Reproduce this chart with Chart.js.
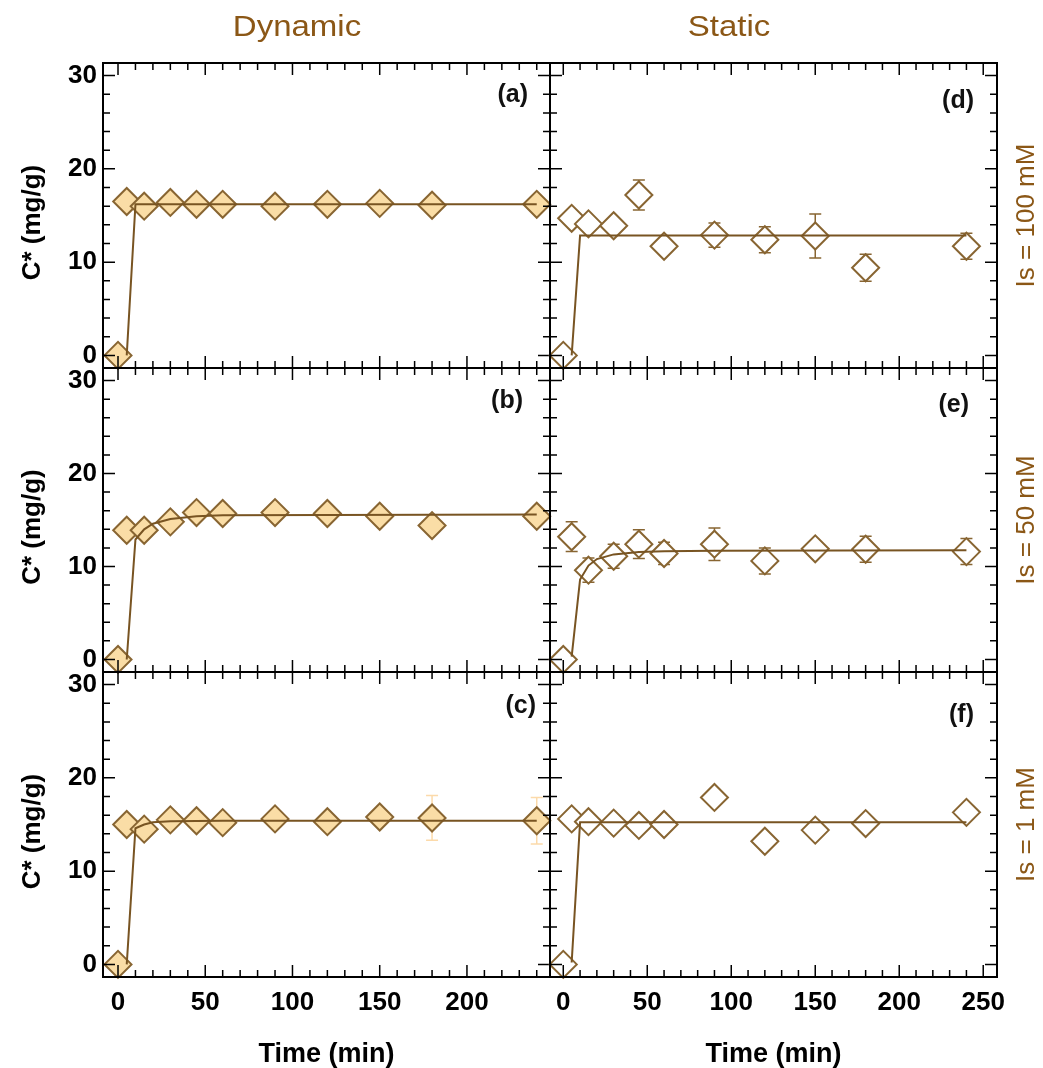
<!DOCTYPE html>
<html>
<head>
<meta charset="utf-8">
<script src="https://cdn.jsdelivr.net/npm/chart.js@4.4.0/dist/chart.umd.min.js"></script>
<style>
html,body{margin:0;padding:0;background:#ffffff;}
#wrap{position:relative;width:1043px;height:1068px;overflow:hidden;}
#wrap canvas{position:absolute;left:0;top:0;}
</style>
</head>
<body>
<div id="wrap">
<canvas id="pa" width="1043" height="1068"></canvas>
<canvas id="pb" width="1043" height="1068"></canvas>
<canvas id="pc" width="1043" height="1068"></canvas>
<canvas id="pd" width="1043" height="1068"></canvas>
<canvas id="pe" width="1043" height="1068"></canvas>
<canvas id="pf" width="1043" height="1068"></canvas>
</div>
<script>
// ---------------- DATA ----------------
const timeMin = [0, 5, 15, 30, 45, 60, 90, 120, 150, 180, 240];

// Dynamic (filled diamonds)
const dynA = [0, 16.5, 16.0, 16.4, 16.2, 16.2, 16.0, 16.2, 16.3, 16.1, 16.2];   // Is = 100 mM
const dynB = [0, 13.9, 13.9, 14.8, 15.8, 15.7, 15.8, 15.7, 15.4, 14.4, 15.4];   // Is = 50 mM
const dynC = [0, 15.0, 14.5, 15.5, 15.4, 15.2, 15.6, 15.3, 15.8, 15.7, 15.4];   // Is = 1 mM
const dynCErr = [0, 0.4, 0.4, 0.4, 0.4, 0.4, 0.4, 0.4, 0.5, 2.4, 2.5];

// Static (open diamonds)
const staD = [0, 14.7, 14.1, 13.9, 17.2, 11.7, 12.9, 12.4, 12.8, 9.4, 11.7];    // Is = 100 mM
const staDErr = [0, 0.5, 0.5, 0.5, 1.6, 0.5, 1.3, 1.4, 2.35, 1.45, 1.4];
const staE = [0, 13.2, 9.6, 11.1, 12.4, 11.4, 12.4, 10.6, 11.9, 11.85, 11.6];   // Is = 50 mM
const staEErr = [0, 1.6, 1.3, 1.3, 1.55, 1.2, 1.75, 1.4, 0.6, 1.4, 1.4];
const staF = [0, 15.6, 15.3, 15.15, 14.9, 15.0, 17.9, 13.2, 14.4, 15.1, 16.3];  // Is = 1 mM

// Fitted curves
const fitTA = [5, 10, 240];
const fitA  = [0, 16.2, 16.2];
const fitTB = [5, 10, 15, 20, 30, 45, 60, 240];
const fitB  = [0, 12.9, 14.0, 14.6, 15.1, 15.4, 15.5, 15.6];
const fitTC = [5, 10, 15, 20, 30, 60, 240];
const fitC  = [0, 14.6, 15.0, 15.25, 15.35, 15.4, 15.4];
const fitTD = [5, 10, 240];
const fitD  = [0, 12.85, 12.85];
const fitTE = [5, 10, 15, 20, 30, 45, 60, 90, 240];
const fitE  = [0.3, 8.6, 10.1, 10.8, 11.3, 11.55, 11.65, 11.7, 11.75];
const fitTF = [5, 10, 240];
const fitF  = [0.2, 15.25, 15.25];

// Tick labels
const yTickLabels = [0, 10, 20, 30];
const xTickLabelsDyn = [0, 50, 100, 150, 200];
const xTickLabelsSta = [0, 50, 100, 150, 200, 250];
const yMinorTicks = [0, 2, 4, 6, 8, 10, 12, 14, 16, 18, 20, 22, 24, 26, 28, 30];
const xMinorTicksDyn = [0,10,20,30,40,50,60,70,80,90,100,110,120,130,140,150,160,170,180,190,200,210,220,230,240];
const xMinorTicksSta = [0,10,20,30,40,50,60,70,80,90,100,110,120,130,140,150,160,170,180,190,200,210,220,230,240,250];

const columnTitles = ['Dynamic', 'Static'];
const rowLabels = ['Is = 100 mM', 'Is = 50 mM', 'Is = 1 mM'];
const panelLetters = ['(a)', '(b)', '(c)', '(d)', '(e)', '(f)'];
const yTitle = 'C* (mg/g)';
const xTitle = 'Time (min)';

// ---------------- STYLE / LAYOUT ----------------
const W = 1043, H = 1068;
const colX = [[103, 550], [550, 997]];
const rowY = [[63, 368], [368, 672], [672, 977]];
const xRange = [[-8.6, 247.6], [-7.9, 258.2]];
const yRange = [-1.35, 31.35];
const FONT = "'Liberation Sans', Arial, Helvetica, sans-serif";
const FILL = 'rgb(250,221,166)';
const EDGE = 'rgb(136,101,50)';
const LINE = 'rgb(120,84,34)';
const TITLE_COLOR = 'rgb(139,87,22)';
const LETTER_COLOR = '#111111';
// letter offsets [dx from right edge, dy from top edge] per panel a..f
const letterPos = [[22, 39], [27, 40], [14, 41], [23, 45], [28, 44], [23, 50]];

const framePlugin = {
  id: 'frame',
  beforeDatasetsDraw(chart, args, o) {
    if (!o.errValues) return;
    const {ctx} = chart, xs = chart.scales.x, ys = chart.scales.y;
    ctx.save();
    ctx.strokeStyle = o.errColor;
    ctx.lineWidth = 1.5;
    ctx.beginPath();
    o.errValues.forEach((v, i) => {
      const e = o.errs[i];
      if (!e) return;
      const px = xs.getPixelForValue(o.errX[i]);
      const y1 = ys.getPixelForValue(v + e), y2 = ys.getPixelForValue(v - e);
      ctx.moveTo(px, y1); ctx.lineTo(px, y2);
      ctx.moveTo(px - 6, y1); ctx.lineTo(px + 6, y1);
      ctx.moveTo(px - 6, y2); ctx.lineTo(px + 6, y2);
    });
    ctx.stroke();
    ctx.restore();
  },
  afterDraw(chart, args, o) {
    const {ctx, chartArea: a} = chart, xs = chart.scales.x, ys = chart.scales.y;
    ctx.save();
    ctx.strokeStyle = '#000';
    ctx.lineWidth = 1.5;
    ctx.beginPath();
    o.xMinor.forEach(v => {
      const px = xs.getPixelForValue(v);
      const len = o.xMajor.includes(v) ? 12 : 7;
      ctx.moveTo(px, a.bottom); ctx.lineTo(px, a.bottom - len);
      ctx.moveTo(px, a.top); ctx.lineTo(px, a.top + len);
    });
    o.yMinor.forEach(v => {
      const py = ys.getPixelForValue(v);
      const len = o.yMajor.includes(v) ? 12 : 7;
      ctx.moveTo(a.left, py); ctx.lineTo(a.left + len, py);
      ctx.moveTo(a.right, py); ctx.lineTo(a.right - len, py);
    });
    ctx.stroke();
    ctx.lineWidth = 2;
    ctx.strokeRect(a.left, a.top, a.right - a.left, a.bottom - a.top);
    // panel letter
    ctx.fillStyle = LETTER_COLOR;
    ctx.font = 'bold 25px ' + FONT;
    ctx.textAlign = 'right';
    ctx.textBaseline = 'alphabetic';
    ctx.fillText(o.letter, a.right - o.letterPos[0], a.top + o.letterPos[1]);
    // y axis title (left column only)
    if (o.yTitle) {
      ctx.fillStyle = '#000';
      ctx.font = 'bold 26px ' + FONT;
      ctx.textAlign = 'center';
      ctx.textBaseline = 'middle';
      ctx.save();
      ctx.translate(33, (a.top + a.bottom) / 2 + 7);
      ctx.rotate(-Math.PI / 2);
      ctx.fillText(o.yTitle, 0, 0);
      ctx.restore();
    }
    // column title
    if (o.colTitle) {
      ctx.fillStyle = TITLE_COLOR;
      ctx.font = '30px ' + FONT;
      ctx.textAlign = 'center';
      ctx.textBaseline = 'alphabetic';
      ctx.save();
      ctx.translate(o.colTitle.x, o.colTitle.y);
      ctx.scale(1.1, 1);
      ctx.fillText(o.colTitle.text, 0, 0);
      ctx.restore();
    }
    // row label
    if (o.rowLabel) {
      ctx.fillStyle = TITLE_COLOR;
      ctx.font = '26px ' + FONT;
      ctx.textAlign = 'center';
      ctx.textBaseline = 'alphabetic';
      ctx.save();
      ctx.translate(a.right + 37, (a.top + a.bottom) / 2);
      ctx.rotate(-Math.PI / 2);
      ctx.fillText(o.rowLabel, 0, 0);
      ctx.restore();
    }
    ctx.restore();
  }
};

function makePanel(id, row, col, values, fitT, fitV, filled, errs, errColor) {
  const area = {left: colX[col][0], right: colX[col][1], top: rowY[row][0], bottom: rowY[row][1]};
  const isLeft = col === 0, isBottom = row === 2;
  const xTicks = col === 0 ? xTickLabelsDyn : xTickLabelsSta;
  const idx = col * 3 + row;
  const frameOpts = {
    xMinor: col === 0 ? xMinorTicksDyn : xMinorTicksSta,
    xMajor: xTicks,
    yMinor: yMinorTicks,
    yMajor: yTickLabels,
    letter: panelLetters[idx],
    letterPos: letterPos[idx],
    errValues: errs ? values : null,
    errs: errs,
    errX: timeMin,
    errColor: errColor,
    yTitle: isLeft ? yTitle : null,
    colTitle: row === 0 ? {text: columnTitles[col], x: col === 0 ? 297 : 729, y: 36} : null,
    rowLabel: col === 1 ? rowLabels[row] : null
  };
  const tickFont = {family: FONT, size: 26, weight: 'bold'};
  new Chart(document.getElementById(id), {
    type: 'scatter',
    data: {
      datasets: [
        {
          data: fitT.map((x, i) => ({x: x, y: fitV[i]})),
          showLine: true, pointRadius: 0, borderColor: LINE, borderWidth: 2,
          fill: false, tension: 0, order: 0, clip: false
        },
        {
          data: timeMin.map((x, i) => ({x: x, y: values[i]})),
          showLine: false, pointStyle: 'rectRot', pointRadius: 13.5,
          pointBorderWidth: 2, pointBackgroundColor: filled ? FILL : '#ffffff',
          pointBorderColor: EDGE, backgroundColor: filled ? FILL : '#ffffff',
          borderColor: EDGE, order: 1, clip: false
        }
      ]
    },
    options: {
      responsive: false, animation: false, events: [],
      layout: {padding: {
        left: isLeft ? 0 : area.left,
        right: W - area.right,
        top: area.top,
        bottom: isBottom ? 0 : H - area.bottom
      }},
      plugins: {legend: {display: false}, tooltip: {enabled: false}, frame: frameOpts},
      scales: {
        x: {
          type: 'linear', min: xRange[col][0], max: xRange[col][1], display: isBottom,
          grid: {display: false, drawTicks: false}, border: {display: false},
          afterBuildTicks: s => { s.ticks = xTicks.map(v => ({value: v})); },
          ticks: {font: tickFont, color: '#000', padding: 10, maxRotation: 0, minRotation: 0, autoSkip: false},
          title: {display: true, text: xTitle, color: '#000', font: {family: FONT, size: 27, weight: 'bold', lineHeight: 1}, padding: {top: 0, bottom: 0}},
          afterFit: s => { if (isBottom) { s.height = H - area.bottom; } s.paddingLeft = 0; s.paddingRight = 0; }
        },
        y: {
          type: 'linear', min: yRange[0], max: yRange[1], display: isLeft,
          grid: {display: false, drawTicks: false}, border: {display: false},
          afterBuildTicks: s => { s.ticks = yTickLabels.map(v => ({value: v})); },
          ticks: {font: tickFont, color: '#000', padding: 6, autoSkip: false},
          title: {display: false},
          afterFit: s => { if (isLeft) { s.width = area.left; } s.paddingTop = 0; s.paddingBottom = 0; }
        }
      }
    },
    plugins: [framePlugin]
  });
}

makePanel('pa', 0, 0, dynA, fitTA, fitA, true, null, null);
makePanel('pb', 1, 0, dynB, fitTB, fitB, true, null, null);
makePanel('pc', 2, 0, dynC, fitTC, fitC, true, dynCErr, 'rgb(252,218,170)');
makePanel('pd', 0, 1, staD, fitTD, fitD, false, staDErr, EDGE);
makePanel('pe', 1, 1, staE, fitTE, fitE, false, staEErr, EDGE);
makePanel('pf', 2, 1, staF, fitTF, fitF, false, null, null);
</script>
</body>
</html>
